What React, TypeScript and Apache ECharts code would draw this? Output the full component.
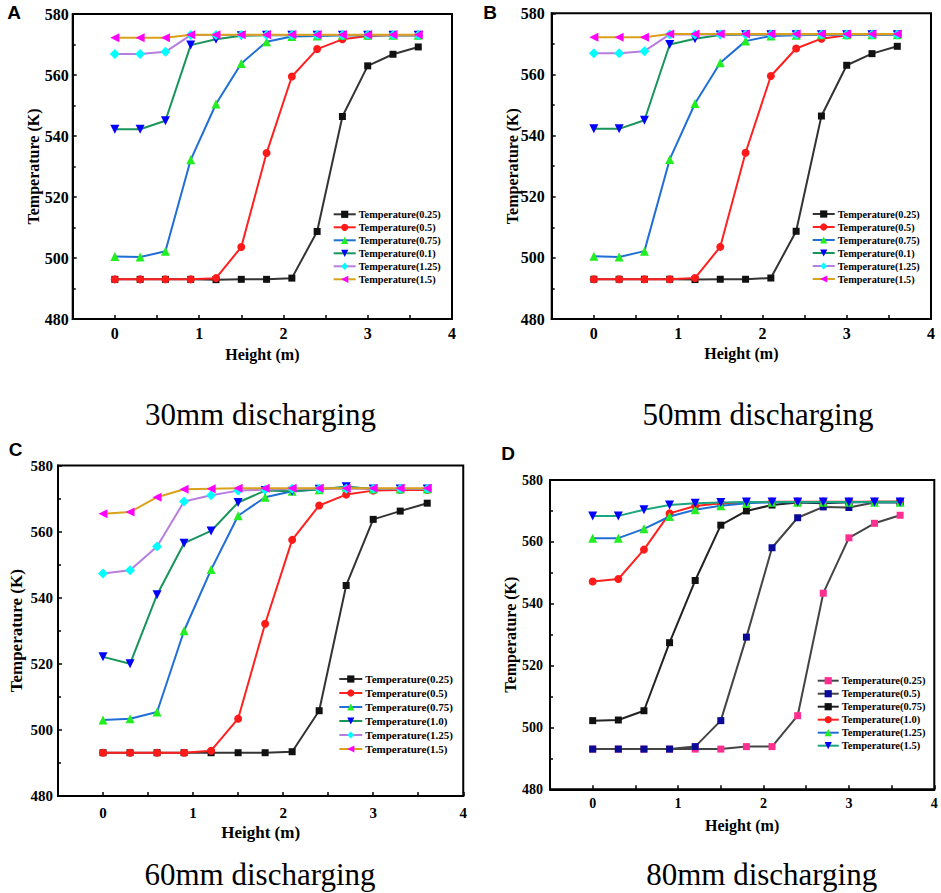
import React, { useEffect, useRef } from "react";
import * as echarts from "echarts";

// ---------- data ----------
const HEIGHTS = [0, 0.3, 0.6, 0.9, 1.2, 1.5, 1.8, 2.1, 2.4, 2.7, 3.0, 3.3, 3.6];

// 30mm / 50mm discharging (A, B)
const AB_T025 = [493, 493, 493, 493, 492.9, 493, 493, 493.4, 508.7, 546.4, 563, 566.8, 569.2];
const AB_T05 = [493, 493, 493, 493, 493.4, 503.6, 534.4, 559.5, 568.5, 571.7, 572.8, 573.1, 573];
const AB_T075 = [500.5, 500.3, 502.2, 532.2, 550.5, 563.8, 570.9, 572.6, 572.8, 573, 573, 573, 573];
const AB_T01 = [542.2, 542.2, 545, 569.8, 571.7, 572.9, 573, 573, 573, 573, 573, 573, 573];
const AB_T125 = [566.9, 566.9, 567.6, 573.1, 573.1, 573.1, 573.1, 573.1, 573.1, 573.1, 573.1, 573.1, 573.1];
const AB_T15 = [572.2, 572.2, 572.2, 573.2, 573.2, 573.2, 573.2, 573.2, 573.2, 573.2, 573.2, 573.2, 573.2];

// 60mm discharging (C)
const C_T025 = [493.1, 493.1, 493.1, 493.1, 493.1, 493.1, 493.1, 493.4, 505.8, 543.7, 563.7, 566.2, 568.6];
const C_T05 = [493.1, 493.1, 493.1, 493.1, 493.7, 503.4, 532.1, 557.5, 567.9, 571.2, 572.4, 572.6, 572.6];
const C_T075 = [503, 503.4, 505.4, 530, 548.5, 564.8, 570.4, 572.2, 572.7, 573.5, 572.9, 572.9, 572.9];
const C_T10 = [522.1, 520, 540.9, 556.5, 560.2, 568.8, 572.4, 572.2, 572.8, 573.6, 572.9, 572.9, 572.9];
const C_T125 = [547.3, 548.3, 555.5, 569.1, 571, 572.4, 572.7, 573, 573, 573, 573, 573, 573];
const C_T15 = [565.4, 565.9, 570.4, 572.8, 573, 573.1, 573.1, 573.1, 573.1, 573.1, 573.1, 573.1, 573.1];

// 80mm discharging (D)
const D_T025 = [493, 493, 493, 493, 493, 493, 493.8, 493.8, 503.8, 543.4, 561.3, 566, 568.6];
const D_T05 = [493, 493, 493, 493, 493.8, 502.2, 529.2, 558.1, 567.8, 571.3, 571.1, 572.7, 572.7];
const D_T075 = [502.2, 502.4, 505.4, 527.4, 547.5, 565.4, 570, 571.9, 572.7, 572.5, 572.8, 573, 573];
const D_T10 = [547.2, 548, 557.5, 569.2, 571.6, 572.5, 572.7, 573, 573, 573, 573, 573, 573];
const D_T125 = [561.2, 561.2, 564.2, 568.2, 570.4, 571.7, 572.5, 572.8, 572.8, 572.8, 572.8, 572.8, 572.8];
const D_T15 = [568.4, 568.4, 570.4, 571.9, 572.5, 572.7, 572.9, 572.9, 572.9, 572.9, 572.9, 572.9, 572.9];

const NAMES_AB = ["Temperature(0.25)", "Temperature(0.5)", "Temperature(0.75)", "Temperature(0.1)", "Temperature(1.25)", "Temperature(1.5)"];
const NAMES_CD = ["Temperature(0.25)", "Temperature(0.5)", "Temperature(0.75)", "Temperature(1.0)", "Temperature(1.25)", "Temperature(1.5)"];

const SUBTITLES = ["30mm discharging", "50mm discharging", "60mm discharging", "80mm discharging"];
const LETTERS = ["A", "B", "C", "D"];

// ---------- styles ----------
type Sty = { symbol: string; rotate: number; marker: string; line: string; size: number };
const STY_ABC: Sty[] = [
  { symbol: "rect", rotate: 0, marker: "#111111", line: "#333333", size: 7 },
  { symbol: "circle", rotate: 0, marker: "#ff1a1a", line: "#ff2020", size: 8 },
  { symbol: "triangle", rotate: 0, marker: "#22ee22", line: "#1f6fd6", size: 9 },
  { symbol: "triangle", rotate: 180, marker: "#0000ff", line: "#17955a", size: 9 },
  { symbol: "diamond", rotate: 0, marker: "#00ffff", line: "#b77ee0", size: 10 },
  { symbol: "triangle", rotate: 90, marker: "#ff00ff", line: "#d9a21b", size: 9 },
];
const STY_D: Sty[] = [
  { symbol: "rect", rotate: 0, marker: "#ff2f92", line: "#444444", size: 7 },
  { symbol: "rect", rotate: 0, marker: "#0a0a99", line: "#444444", size: 7 },
  { symbol: "rect", rotate: 0, marker: "#111111", line: "#222222", size: 7 },
  { symbol: "circle", rotate: 0, marker: "#ff1a1a", line: "#ff2020", size: 8 },
  { symbol: "triangle", rotate: 0, marker: "#22ee22", line: "#1f6fd6", size: 9 },
  { symbol: "triangle", rotate: 180, marker: "#0000ff", line: "#1aa67e", size: 9 },
];

type Panel = {
  letter: string;
  subtitle: string;
  names: string[];
  data: number[][];
  sty: Sty[];
  divLeft: number;
  divTop: number;
  divW: number;
  divH: number;
  grid: { left: number; top: number; width: number; height: number };
  letterPos: [number, number];
  subPos: [number, number];
  tickFont: number;
  nameFont: number;
  yLabelMargin: number;
  xLabelMargin: number;
  xNameGap: number;
  yNameGap: number;
  legend: { left: number; top: number; itemWidth: number; fontSize: number; lineHeight: number };
};

const FONT = "'Liberation Serif', 'Times New Roman', serif";

const PANELS: Panel[] = [
  {
    letter: LETTERS[0], subtitle: SUBTITLES[0], names: NAMES_AB,
    data: [AB_T025, AB_T05, AB_T075, AB_T01, AB_T125, AB_T15], sty: STY_ABC,
    divLeft: 0, divTop: 0, divW: 470, divH: 440,
    grid: { left: 72.7, top: 14, width: 379.3, height: 305 },
    letterPos: [14, 12], subPos: [260.5, 414.5],
    tickFont: 16, nameFont: 16, yLabelMargin: 4, xLabelMargin: 6, xNameGap: 27, yNameGap: 31,
    legend: { left: 332.7, top: 208.8, itemWidth: 22, fontSize: 10.3, lineHeight: 11 },
  },
  {
    letter: LETTERS[1], subtitle: SUBTITLES[1], names: NAMES_AB,
    data: [AB_T025, AB_T05, AB_T075, AB_T01, AB_T125, AB_T15], sty: STY_ABC,
    divLeft: 470, divTop: 0, divW: 471, divH: 440,
    grid: { left: 81.7, top: 13.3, width: 379.3, height: 305.7 },
    letterPos: [20, 12.5], subPos: [288, 414.5],
    tickFont: 16, nameFont: 16, yLabelMargin: 7, xLabelMargin: 6, xNameGap: 26, yNameGap: 31.5,
    legend: { left: 341.7, top: 208.5, itemWidth: 22, fontSize: 10.3, lineHeight: 11 },
  },
  {
    letter: LETTERS[2], subtitle: SUBTITLES[2], names: NAMES_CD,
    data: [C_T025, C_T05, C_T075, C_T10, C_T125, C_T15], sty: STY_ABC,
    divLeft: 0, divTop: 440, divW: 470, divH: 453,
    grid: { left: 53.8, top: 25.5, width: 411.2, height: 330.5 },
    letterPos: [15.5, 9], subPos: [260, 434.5],
    tickFont: 15, nameFont: 17, yLabelMargin: 5, xLabelMargin: 9, xNameGap: 28, yNameGap: 33,
    legend: { left: 338.3, top: 233, itemWidth: 23, fontSize: 11, lineHeight: 12 },
  },
  {
    letter: LETTERS[3], subtitle: SUBTITLES[3], names: NAMES_CD,
    data: [D_T025, D_T05, D_T075, D_T10, D_T125, D_T15], sty: STY_D,
    divLeft: 470, divTop: 440, divW: 471, divH: 453,
    grid: { left: 80, top: 40, width: 384.3, height: 309.3 },
    letterPos: [38, 13], subPos: [291.7, 434.5],
    tickFont: 14, nameFont: 16, yLabelMargin: 7, xLabelMargin: 7, xNameGap: 28, yNameGap: 32,
    legend: { left: 346.7, top: 235.2, itemWidth: 21, fontSize: 10.5, lineHeight: 11 },
  },
];

function buildOption(p: Panel): any {
  const labelStyle = { fontFamily: FONT, fontWeight: "bold", fontSize: p.tickFont, color: "#000" };
  const series = p.names.map((name, i) => ({
    name,
    type: "line",
    data: HEIGHTS.map((h, j) => [h, p.data[i][j]]),
    symbol: p.sty[i].symbol,
    symbolRotate: p.sty[i].rotate,
    symbolSize: p.sty[i].size,
    showAllSymbol: true,
    lineStyle: { color: p.sty[i].line, width: 2 },
    itemStyle: { color: p.sty[i].marker, borderWidth: 0 },
    emphasis: { disabled: true },
    z: 2 + i,
  }));
  return {
    animation: false,
    backgroundColor: "#ffffff",
    grid: { ...p.grid, show: true, borderColor: "#000", borderWidth: 2, backgroundColor: "transparent", containLabel: false },
    xAxis: {
      type: "value",
      min: -0.5,
      max: 4,
      interval: 0.5,
      name: "Height (m)",
      nameLocation: "middle",
      nameGap: p.xNameGap,
      nameMoveOverlap: false,
      nameTextStyle: { fontFamily: FONT, fontWeight: "bold", fontSize: p.nameFont, color: "#000" },
      axisLine: { show: true, onZero: false, lineStyle: { color: "#000", width: 2 } },
      axisTick: { show: true, inside: true, length: 4, lineStyle: { color: "#000", width: 1.5 } },
      axisLabel: {
        ...labelStyle,
        margin: p.xLabelMargin,
        showMinLabel: false,
        formatter: (v: number) => (v >= 0 && Math.abs(v - Math.round(v)) < 1e-6 ? String(Math.round(v)) : ""),
      },
      splitLine: { show: false },
    },
    yAxis: {
      type: "value",
      min: 480,
      max: 580,
      interval: 20,
      name: "Temperature (K)",
      nameLocation: "middle",
      nameGap: p.yNameGap,
      nameMoveOverlap: false,
      nameTextStyle: { fontFamily: FONT, fontWeight: "bold", fontSize: p.nameFont, color: "#000" },
      axisLine: { show: true, onZero: false, lineStyle: { color: "#000", width: 2 } },
      axisTick: { show: true, inside: true, length: 4, lineStyle: { color: "#000", width: 1.5 } },
      minorTick: { show: true, splitNumber: 2, length: 3, lineStyle: { color: "#000", width: 1.5 } },
      axisLabel: { ...labelStyle, margin: p.yLabelMargin },
      splitLine: { show: false },
      minorSplitLine: { show: false },
    },
    legend: {
      show: true,
      orient: "vertical",
      left: p.legend.left,
      top: p.legend.top,
      padding: 0,
      itemGap: (p.legend.lineHeight === 12 ? 14 : 13) - p.legend.lineHeight,
      itemWidth: p.legend.itemWidth,
      itemHeight: 9,
      selectedMode: false,
      data: p.names,
      textStyle: {
        fontFamily: FONT,
        fontWeight: "bold",
        fontSize: p.legend.fontSize,
        lineHeight: p.legend.lineHeight,
        color: "#000",
        padding: [0, 0, 0, -2],
      },
    },
    graphic: [
      {
        type: "text",
        x: p.letterPos[0],
        y: p.letterPos[1],
        style: {
          text: p.letter,
          fontFamily: "'Liberation Sans', Arial, sans-serif",
          fontWeight: "bold",
          fontSize: 19,
          fill: "#000",
          align: "center",
          verticalAlign: "middle",
        },
      },
      {
        type: "text",
        x: p.subPos[0],
        y: p.subPos[1],
        style: {
          text: p.subtitle,
          fontFamily: FONT,
          fontSize: 31,
          fill: "#000",
          align: "center",
          verticalAlign: "middle",
        },
      },
    ],
    series,
  };
}

function PanelChart({ p }: { p: Panel }) {
  const ref = useRef<HTMLDivElement>(null);
  useEffect(() => {
    if (!ref.current) return;
    const chart = echarts.init(ref.current, undefined, { renderer: "svg" });
    chart.setOption(buildOption(p));
    return () => chart.dispose();
  }, [p]);
  return (
    <div
      ref={ref}
      style={{ position: "absolute", left: p.divLeft, top: p.divTop, width: p.divW, height: p.divH }}
    />
  );
}

export default function App() {
  return (
    <div style={{ position: "absolute", left: 0, top: 0, width: 941, height: 893, background: "#fff", overflow: "hidden" }}>
      {PANELS.map((p) => (
        <PanelChart key={p.letter} p={p} />
      ))}
    </div>
  );
}
